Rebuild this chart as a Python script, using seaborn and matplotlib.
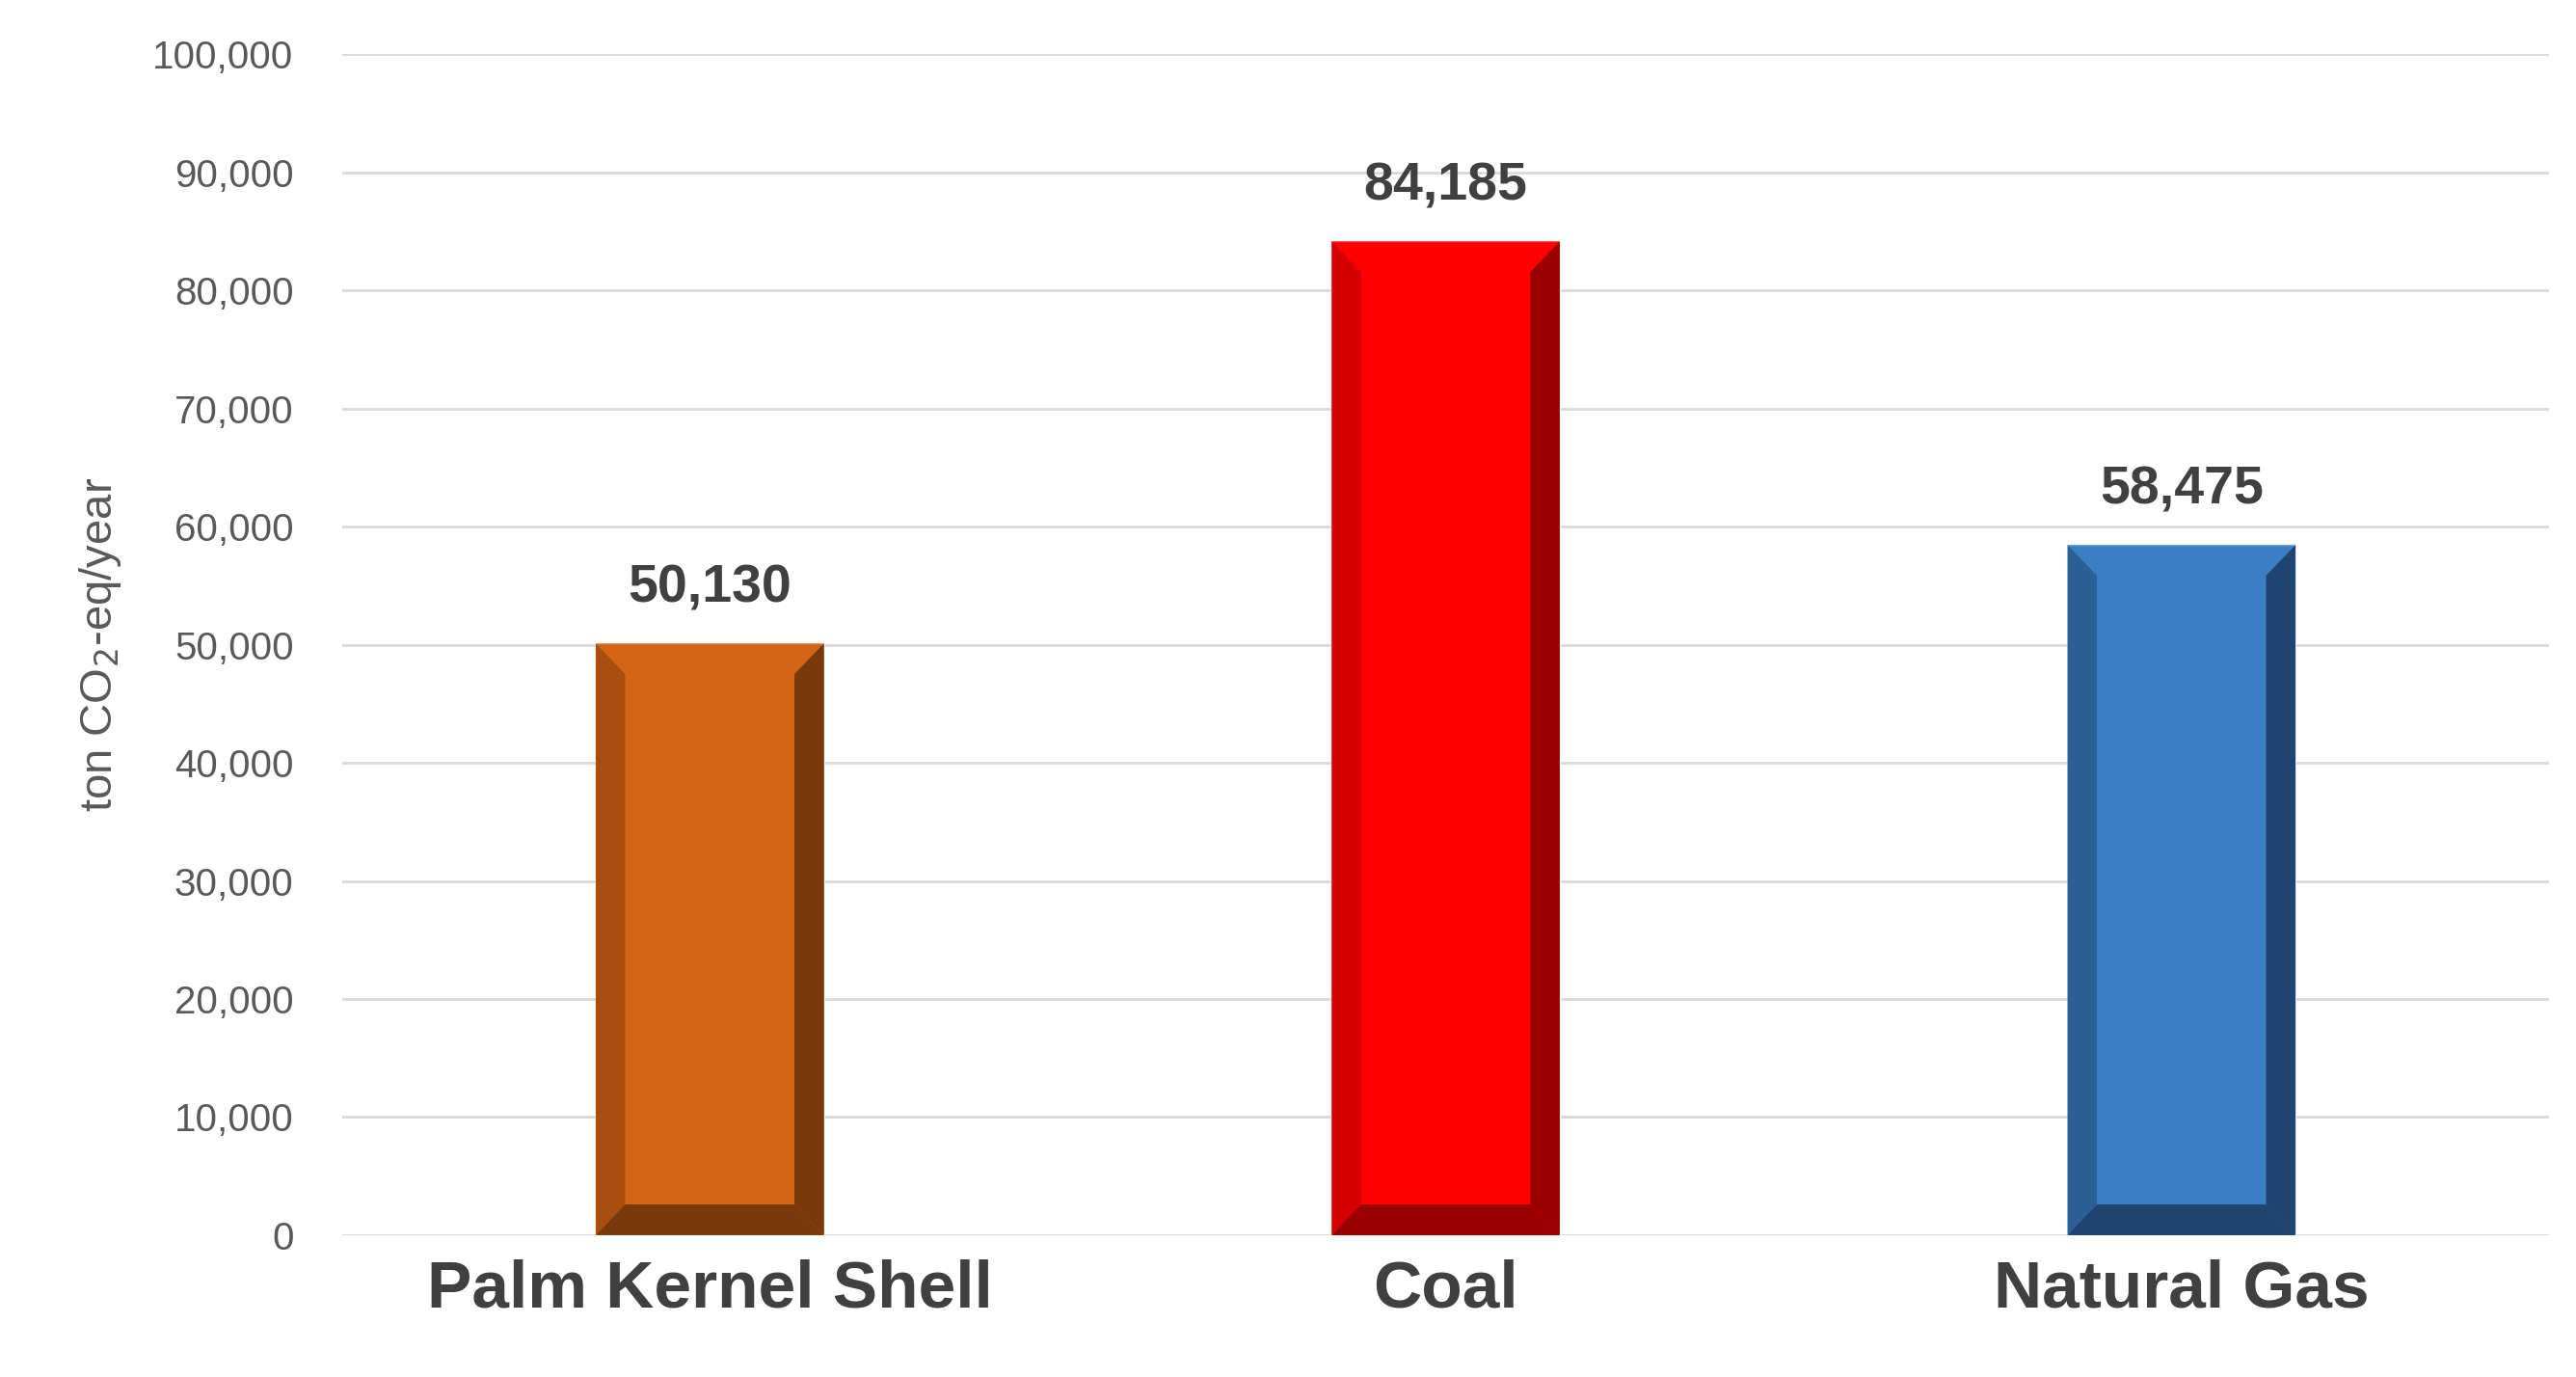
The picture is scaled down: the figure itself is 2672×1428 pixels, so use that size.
import matplotlib
matplotlib.use("Agg")
import matplotlib.pyplot as plt
import seaborn as sns
import pandas as pd
from matplotlib.patches import Polygon

fuels = ["Palm Kernel Shell", "Coal", "Natural Gas"]
emissions = [50130, 84185, 58475]
face_colors = ["#D46516", "#FF0000", "#3A7EC4"]
left_colors = ["#A84E0F", "#D60000", "#2B5F96"]
right_colors = ["#7A390B", "#9A0000", "#1E4470"]

data = pd.DataFrame({"fuel": fuels, "value": emissions})

sns.set_style("white")
plt.rcParams["font.family"] = ["Liberation Sans", "DejaVu Sans"]

fig = plt.figure(figsize=(26.72, 14.28), dpi=100)
ax = fig.add_axes([0.1327, 0.103, 0.857, 0.8575])

sns.barplot(x="fuel", y="value", data=data, hue="fuel", palette=face_colors,
            width=0.31, legend=False, ax=ax, zorder=3, saturation=1)

ax.set_ylim(0, 100000)
ax.set_yticks(range(0, 100001, 10000))
ax.set_yticklabels([f"{v:,}" for v in range(0, 100001, 10000)])
ax.yaxis.grid(True, color="#D9D9D9", linewidth=2)
ax.set_axisbelow(True)
for s in ax.spines.values():
    s.set_visible(False)
ax.axhline(0, color="#D9D9D9", linewidth=2, zorder=2)

ax.tick_params(axis="y", labelsize=29, labelcolor="#595959", length=0, pad=36)
ax.tick_params(axis="x", labelsize=50, labelcolor="#404040", length=0, pad=18)
for t in ax.get_xticklabels():
    t.set_fontweight("bold")
ax.set_xlabel("")
ax.set_ylabel("ton CO$_2$-eq/year", fontsize=34, color="#595959", labelpad=22)

# bevel edges
bx, by = 0.04, 2600
for p, lc, rc in zip(ax.patches, left_colors, right_colors):
    x0, w, h = p.get_x(), p.get_width(), p.get_height()
    x1 = x0 + w
    ax.add_patch(Polygon([(x0, 0), (x0, h), (x0 + bx, h - by), (x0 + bx, by)],
                         color=lc, zorder=4, lw=0))
    ax.add_patch(Polygon([(x1, 0), (x1, h), (x1 - bx, h - by), (x1 - bx, by)],
                         color=rc, zorder=4, lw=0))
    ax.add_patch(Polygon([(x0, 0), (x1, 0), (x1 - bx, by), (x0 + bx, by)],
                         color=rc, zorder=4, lw=0))
    ax.add_patch(Polygon([(x0, h), (x1, h), (x1 - bx, h - by), (x0 + bx, h - by)],
                         color=p.get_facecolor(), zorder=4, lw=0, alpha=0.7))

for i, v in enumerate(emissions):
    ax.text(i, v + 2500, f"{v:,}", ha="center", va="bottom", fontsize=40,
            fontweight="bold", color="#404040")

fig.savefig("out.png", dpi=100)
